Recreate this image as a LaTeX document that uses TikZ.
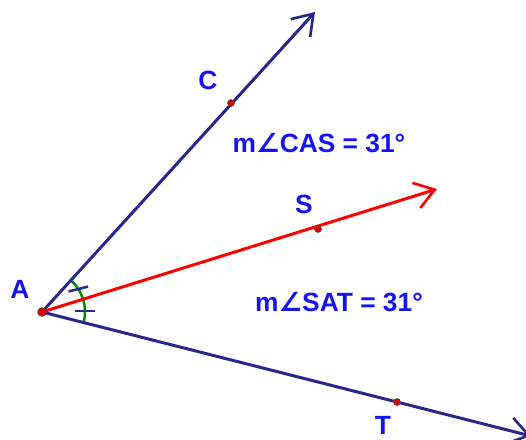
\documentclass[tikz,border=0pt]{standalone}
\usepackage{fontspec}
\setmainfont{Liberation Sans}
\newfontfamily\symfont{DejaVu Sans}
\usetikzlibrary{arrows.meta, calc}

\definecolor{raynavy}{RGB}{38,38,140}
\definecolor{lblblue}{RGB}{20,20,240}
\definecolor{arcgreen}{RGB}{0,140,0}

\begin{document}
\begin{tikzpicture}[
		x=0.02cm, y=-0.02cm,
		ray/.style={-{Straight Barb[length=11pt, width=15pt, line width=1.5pt]}, line width=1.7pt, raynavy},
		pt/.style={circle, fill=red!85!black, draw=black!70, line width=0.3pt, inner sep=0pt, minimum size=4pt},
		lbl/.style={text=lblblue, font=\bfseries\fontsize{15}{17}\selectfont, inner sep=0pt},
		tick/.style={raynavy, line width=1.4pt}
		]
		\useasboundingbox (0,0) rectangle (526,439);
		
		% Points
		\coordinate (A) at (42,312);
		\coordinate (Cend) at (315,12);
		\coordinate (Send) at (437,189);
		\coordinate (Tend) at (531,436);
		
		% Angle marks (y axis points down, so angles are negated)
		\draw[arcgreen, line width=1.4pt] ($(A)+(-47.9:43)$) arc[start angle=-47.9, end angle=-16.7, radius=43];
		\draw[arcgreen, line width=1.4pt] ($(A)+(-16.7:43)$) arc[start angle=-16.7, end angle=14.2, radius=43];
		\draw[tick] ($(A)+(-32.3:43)+(166:10)$) -- ($(A)+(-32.3:43)+(-14:10)$);
		\draw[tick] ($(A)+(-1.2:43)+(180:10)$) -- ($(A)+(-1.2:43)+(0:10)$);
		
		% Rays
		\draw[ray] (A) -- (Cend);
		\draw[ray, red] (A) -- (Send);
		\draw[ray] (A) -- (Tend);
		
		\node[pt] (C) at (231,103) {};
		\node[pt] (S) at (318,229) {};
		\node[pt] (T) at (397,402) {};
		\node[pt, minimum size=5pt] (Adot) at (A) {};
		
		% Labels
		\node[lbl] (labC) at (208,80) {C};
		\node[lbl] (labS) at (304,204) {S};
		\node[lbl] (labA) at (20,289) {A};
		\node[lbl] (labT) at (383,425) {T};
		\node[lbl] (cas) at (319,143) {m{\symfont ∠}CAS = 31°};
		\node[lbl] (sat) at (339,302) {m{\symfont ∠}SAT = 31°};
		
	\end{tikzpicture}
\end{document}
